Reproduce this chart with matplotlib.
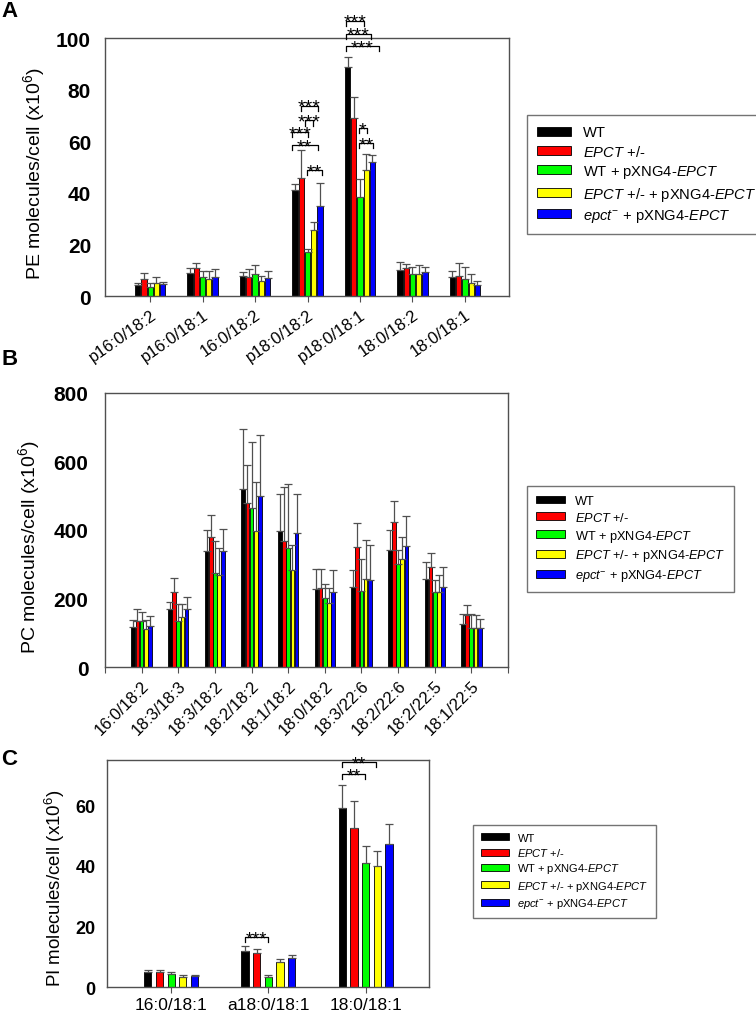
import matplotlib
matplotlib.use("Agg")
import matplotlib.pyplot as plt
import numpy as np

plt.rcParams['font.family'] = ['Liberation Sans', 'DejaVu Sans']
plt.rcParams['mathtext.fontset'] = 'custom'
plt.rcParams['mathtext.rm'] = 'Liberation Sans'
plt.rcParams['mathtext.it'] = 'Liberation Sans:italic'
plt.rcParams['mathtext.bf'] = 'Liberation Sans:bold'

# groups / legend
group_labels = ['WT', r'$\mathit{EPCT}$ +/-', r'WT + pXNG4-$\mathit{EPCT}$',
                r'$\mathit{EPCT}$ +/- + pXNG4-$\mathit{EPCT}$',
                r'$\mathit{epct}^{-}$ + pXNG4-$\mathit{EPCT}$']
group_colors = ['#000000', '#ff0000', '#00ff00', '#ffff00', '#0000ff']

# Panel A - PE species
cats_a = ['p16:0/18:2', 'p16:0/18:1', '16:0/18:2', 'p18:0/18:2', 'p18:0/18:1', '18:0/18:2', '18:0/18:1']
wt_a = [4.3, 9.0, 7.7, 41.0, 88.9, 10.1, 7.5]
epct_a = [6.5, 10.8, 7.5, 45.8, 69.0, 11.0, 7.9]
wtp_a = [3.6, 7.5, 8.6, 16.9, 38.5, 8.4, 6.7]
epctp_a = [4.9, 6.7, 5.7, 25.7, 48.9, 8.4, 4.9]
nullp_a = [4.8, 7.2, 7.1, 34.8, 52.0, 9.2, 4.3]
wt_a_sd = [0.9, 2.0, 1.6, 2.5, 3.6, 3.1, 2.2]
epct_a_sd = [2.5, 2.1, 3.1, 11.0, 8.0, 1.5, 5.0]
wtp_a_sd = [1.6, 2.3, 3.3, 1.4, 7.0, 3.0, 4.4]
epctp_a_sd = [2.5, 3.1, 2.0, 2.9, 6.3, 3.6, 3.5]
nullp_a_sd = [0.7, 3.4, 2.7, 9.1, 2.7, 1.9, 1.5]
# (category, from bar, to bar, height, stars)
sig_a = [(3, 0.9, 3.7, 73.8, '***'), (3, 1.6, 2.9, 68.1, '***'), (3, -0.5, 2.1, 63.5, '***'),
         (3, -0.5, 3.6, 58.5, '**'), (3, 1.9, 4.3, 48.8, '**'),
         (4, -0.3, 2.6, 106.8, '***'), (4, -0.3, 3.7, 101.7, '***'), (4, -0.3, 5.1, 96.8, '***'),
         (4, 1.8, 3.1, 65.2, '*'), (4, 1.8, 4.1, 59.4, '**')]

# Panel B - PC species
cats_b = ['16:0/18:2', '18:3/18:3', '18:3/18:2', '18:2/18:2', '18:1/18:2',
          '18:0/18:2', '18:3/22:6', '18:2/22:6', '18:2/22:5', '18:1/22:5']
wt_b = [116, 169, 339, 520, 398, 229, 234, 343, 257, 126]
epct_b = [135, 220, 381, 478, 369, 232, 350, 424, 293, 153]
wtp_b = [133, 135, 274, 465, 348, 202, 223, 302, 219, 114]
epctp_b = [111, 146, 270, 396, 284, 187, 257, 314, 219, 115]
nullp_b = [120, 170, 339, 500, 390, 220, 255, 352, 235, 115]
wt_b_sd = [22, 20, 61, 175, 107, 58, 48, 56, 51, 30]
epct_b_sd = [34, 39, 64, 113, 157, 55, 70, 60, 41, 27]
wtp_b_sd = [29, 49, 94, 191, 185, 41, 91, 41, 35, 42]
epctp_b_sd = [26, 38, 76, 144, 72, 45, 113, 66, 49, 38]
nullp_b_sd = [30, 35, 65, 177, 114, 64, 100, 90, 56, 26]

# Panel C - PI species
cats_c = ['16:0/18:1', 'a18:0/18:1', '18:0/18:1']
wt_c = [4.8, 12.0, 59.1]
epct_c = [4.8, 11.1, 52.7]
wtp_c = [4.4, 3.4, 41.0]
epctp_c = [3.4, 8.3, 40.0]
nullp_c = [3.7, 9.5, 47.3]
wt_c_sd = [0.8, 1.4, 7.8]
epct_c_sd = [0.7, 1.3, 8.8]
wtp_c_sd = [0.7, 0.5, 5.7]
epctp_c_sd = [0.7, 0.9, 4.9]
nullp_c_sd = [0.4, 1.2, 6.6]
sig_c = [(2, 0, 2.9, 74.3, '**'), (2, 0, 1.9, 70.3, '**'), (1, 0, 2, 16.4, '***')]


def draw_bars(ax, means, sds, step, width, capsize):
    x = np.arange(len(means[0]))
    for i in range(5):
        pos = x + (i - 2) * step
        ax.bar(pos, means[i], width, color=group_colors[i], edgecolor='black',
               linewidth=0.6, zorder=2, label=group_labels[i])
        ax.errorbar(pos, means[i], yerr=[np.zeros(len(sds[i])), sds[i]], fmt='none',
                    ecolor='#505050', elinewidth=0.9, capsize=capsize, capthick=0.9, zorder=3)


def draw_sig(ax, sigs, step, leg, fs):
    for cat, a, b, y, stars in sigs:
        x0 = cat + (a - 2) * step
        x1 = cat + (b - 2) * step
        ax.plot([x0, x0, x1, x1], [y - leg, y, y, y - leg], color='black', lw=0.9,
                clip_on=False, zorder=4)
        ax.annotate(stars, xy=((x0 + x1) / 2, y), xytext=(0, -4.5), textcoords='offset points',
                    ha='center', va='baseline', fontsize=fs, annotation_clip=False)


def style_axes(ax):
    for s in ax.spines.values():
        s.set_color('#505050')
        s.set_linewidth(1.0)
    ax.tick_params(axis='y', length=0)
    ax.tick_params(axis='x', direction='out', length=4, color='#505050')
    for lab in ax.get_yticklabels():
        lab.set_fontweight('bold')


def add_legend(ax, anchor, fs, hl):
    h, l = ax.get_legend_handles_labels()
    fig.legend(h, l, loc='upper left', bbox_to_anchor=anchor, borderaxespad=0, fontsize=fs,
               frameon=True, fancybox=False, edgecolor='#505050', handlelength=hl,
               handleheight=0.55, labelspacing=0.3, borderpad=0.7, handletextpad=0.8)


fig = plt.figure(figsize=(7.56, 10.12), dpi=100)

# ---- A
ax_a = fig.add_axes([0.1389, 0.7065, 0.5344, 0.2549])
step_a = 0.119
draw_bars(ax_a, [wt_a, epct_a, wtp_a, epctp_a, nullp_a],
          [wt_a_sd, epct_a_sd, wtp_a_sd, epctp_a_sd, nullp_a_sd], step_a, 0.1, 2.6)
draw_sig(ax_a, sig_a, step_a, 2.0, 14)
ax_a.set_xlim(-0.86, 6.84)
ax_a.set_ylim(0, 100)
ax_a.set_yticks(np.arange(0, 101, 20))
ax_a.tick_params(axis='y', labelsize=15, pad=10)
ax_a.set_xticks(np.arange(len(cats_a)))
ax_a.set_xticklabels(cats_a, rotation=35, ha='right', rotation_mode='anchor', fontsize=12)
ax_a.set_ylabel(r'PE molecules/cell (x10$^{6}$)', fontsize=14)
ax_a.yaxis.set_label_coords(-0.144, 0.477)
style_axes(ax_a)
add_legend(ax_a, (0.697, 0.8854), 10.6, 2.3)

# ---- B
ax_b = fig.add_axes([0.1389, 0.3399, 0.533, 0.2708])
step_b = 0.114
draw_bars(ax_b, [wt_b, epct_b, wtp_b, epctp_b, nullp_b],
          [wt_b_sd, epct_b_sd, wtp_b_sd, epctp_b_sd, nullp_b_sd], step_b, 0.1, 3.2)
ax_b.set_xlim(-1, 10)
ax_b.set_ylim(0, 800)
ax_b.set_yticks(np.arange(0, 801, 200))
ax_b.tick_params(axis='y', labelsize=15, pad=12)
ax_b.set_xticks(np.arange(-1, len(cats_b) + 1))
ax_b.set_xticklabels([''] + cats_b + [''], rotation=45, ha='right', rotation_mode='anchor', fontsize=12)
ax_b.set_ylabel(r'PC molecules/cell (x10$^{6}$)', fontsize=14)
ax_b.yaxis.set_label_coords(-0.156, 0.44)
style_axes(ax_b)
add_legend(ax_b, (0.697, 0.5188), 9.2, 2.25)

# ---- C
ax_c = fig.add_axes([0.1415, 0.0237, 0.4259, 0.2243])
step_c = 0.12
draw_bars(ax_c, [wt_c, epct_c, wtp_c, epctp_c, nullp_c],
          [wt_c_sd, epct_c_sd, wtp_c_sd, epctp_c_sd, nullp_c_sd], step_c, 0.075, 3)
draw_sig(ax_c, sig_c, step_c, 1.6, 13)
ax_c.set_xlim(-0.66, 2.65)
ax_c.set_ylim(0, 75)
ax_c.set_yticks([0, 20, 40, 60])
ax_c.tick_params(axis='y', labelsize=13, pad=8)
ax_c.set_xticks(np.arange(len(cats_c)))
ax_c.set_xticklabels(cats_c, fontsize=12.5)
ax_c.set_ylabel(r'PI molecules/cell (x10$^{6}$)', fontsize=13.5)
ax_c.yaxis.set_label_coords(-0.124, 0.44)
style_axes(ax_c)
add_legend(ax_c, (0.6257, 0.1838), 8.0, 2.5)

# panel letters
for letter, ytop in [('A', 1), ('B', 349), ('C', 749)]:
    fig.text(0.002, 1 - ytop / 1012, letter, fontsize=16, fontweight='bold', va='top', ha='left')

fig.savefig('out.png', dpi=100)
